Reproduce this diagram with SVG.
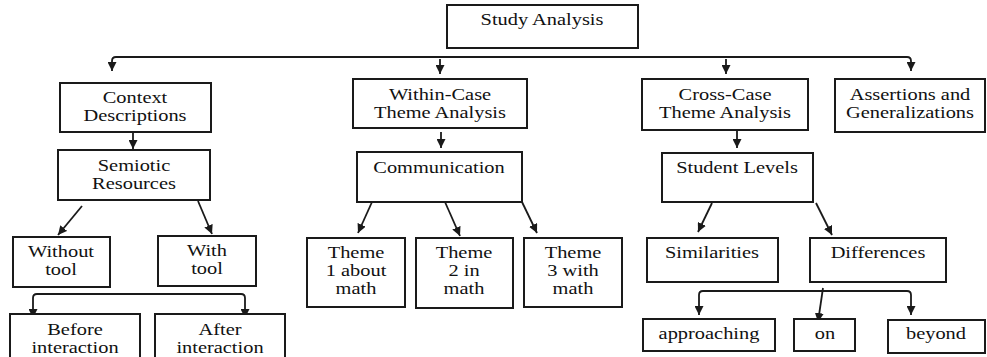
<svg xmlns="http://www.w3.org/2000/svg" width="987" height="357" viewBox="0 0 987 357">
<defs>
<style>
.box{fill:#fff;stroke:#1a1a1a;stroke-width:2}
.t{font-family:'Liberation Serif','Times New Roman','DejaVu Serif',serif;font-size:17px;fill:#111;text-anchor:middle}
.c{fill:none;stroke:#1a1a1a;stroke-width:1.8}
</style>
<marker id="ah" viewBox="0 0 10 10" refX="10" refY="5" markerWidth="9" markerHeight="9" markerUnits="userSpaceOnUse" orient="auto-start-reverse">
<path d="M0,0 L10,5 L0,10 z" fill="#1a1a1a"/>
</marker>
</defs>
<rect width="987" height="357" fill="#fff"/>

<g id="connectors">
<path class="c" d="M112,71 V61 Q112,57 116,57 H907 Q911,57 911,61 V71" marker-start="url(#ah)" marker-end="url(#ah)"/>
<path class="c" d="M440,59 V74" marker-end="url(#ah)"/>
<path class="c" d="M726,59 V74" marker-end="url(#ah)"/>
<path class="c" d="M133,132 V149" marker-end="url(#ah)"/>
<path class="c" d="M441,132 V148" marker-end="url(#ah)"/>
<path class="c" d="M737,130 V148" marker-end="url(#ah)"/>
<path class="c" d="M82,206 L58,235" marker-end="url(#ah)"/>
<path class="c" d="M198,201 L212,234" marker-end="url(#ah)"/>
<path class="c" d="M33,318 V298 Q33,294 37,294 H241 Q245,294 245,298 V318" marker-start="url(#ah)" marker-end="url(#ah)"/>
<path class="c" d="M372,202 L358,233" marker-end="url(#ah)"/>
<path class="c" d="M445,202 L460,236" marker-end="url(#ah)"/>
<path class="c" d="M522,202 L537,233" marker-end="url(#ah)"/>
<path class="c" d="M712,203 L698,232" marker-end="url(#ah)"/>
<path class="c" d="M816,203 L832,235" marker-end="url(#ah)"/>
<path class="c" d="M699,315 V295 Q699,291 703,291 H907 Q911,291 911,295 V315" marker-start="url(#ah)" marker-end="url(#ah)"/>
<path class="c" d="M823,288 L818,322" marker-end="url(#ah)"/>
</g>

<g id="study-analysis">
<rect class="box" x="447" y="5" width="191" height="43"/>
<text class="t" transform="translate(542 25) scale(1.2 1)">Study Analysis</text>
</g>
<g id="context-descriptions">
<rect class="box" x="60" y="83" width="151" height="49"/>
<text class="t" transform="translate(135 103) scale(1.2 1)"><tspan x="0" y="0">Context</tspan><tspan x="0" y="18">Descriptions</tspan></text>
</g>
<g id="semiotic-resources">
<rect class="box" x="58" y="150" width="152" height="50"/>
<text class="t" transform="translate(134 171) scale(1.2 1)"><tspan x="0" y="0">Semiotic</tspan><tspan x="0" y="18">Resources</tspan></text>
</g>
<g id="without-tool">
<rect class="box" x="13" y="237" width="97" height="50"/>
<text class="t" transform="translate(61 257) scale(1.2 1)"><tspan x="0" y="0">Without</tspan><tspan x="0" y="18">tool</tspan></text>
</g>
<g id="with-tool">
<rect class="box" x="158" y="236" width="98" height="50"/>
<text class="t" transform="translate(207 256) scale(1.2 1)"><tspan x="0" y="0">With</tspan><tspan x="0" y="18">tool</tspan></text>
</g>
<g id="before-interaction">
<rect class="box" x="10" y="314" width="130" height="50"/>
<text class="t" transform="translate(75 335) scale(1.2 1)"><tspan x="0" y="0">Before</tspan><tspan x="0" y="18">interaction</tspan></text>
</g>
<g id="after-interaction">
<rect class="box" x="155" y="314" width="130" height="50"/>
<text class="t" transform="translate(220 335) scale(1.2 1)"><tspan x="0" y="0">After</tspan><tspan x="0" y="18">interaction</tspan></text>
</g>
<g id="within-case">
<rect class="box" x="353" y="79" width="174" height="49"/>
<text class="t" transform="translate(440 100) scale(1.2 1)"><tspan x="0" y="0">Within-Case</tspan><tspan x="0" y="18">Theme Analysis</tspan></text>
</g>
<g id="communication">
<rect class="box" x="357" y="152" width="165" height="50"/>
<text class="t" transform="translate(439 173) scale(1.2 1)">Communication</text>
</g>
<g id="theme-1">
<rect class="box" x="307" y="238" width="98" height="69"/>
<text class="t" transform="translate(356 258) scale(1.2 1)"><tspan x="0" y="0">Theme</tspan><tspan x="0" y="18">1 about</tspan><tspan x="0" y="36">math</tspan></text>
</g>
<g id="theme-2">
<rect class="box" x="416" y="238" width="97" height="70"/>
<text class="t" transform="translate(464 258) scale(1.2 1)"><tspan x="0" y="0">Theme</tspan><tspan x="0" y="18">2 in</tspan><tspan x="0" y="36">math</tspan></text>
</g>
<g id="theme-3">
<rect class="box" x="524" y="238" width="98" height="69"/>
<text class="t" transform="translate(573 258) scale(1.2 1)"><tspan x="0" y="0">Theme</tspan><tspan x="0" y="18">3 with</tspan><tspan x="0" y="36">math</tspan></text>
</g>
<g id="cross-case">
<rect class="box" x="642" y="79" width="166" height="51"/>
<text class="t" transform="translate(725 100) scale(1.2 1)"><tspan x="0" y="0">Cross-Case</tspan><tspan x="0" y="18">Theme Analysis</tspan></text>
</g>
<g id="student-levels">
<rect class="box" x="662" y="153" width="151" height="49"/>
<text class="t" transform="translate(737 173) scale(1.2 1)">Student Levels</text>
</g>
<g id="assertions">
<rect class="box" x="835" y="79" width="150" height="53"/>
<text class="t" transform="translate(910 100) scale(1.2 1)"><tspan x="0" y="0">Assertions and</tspan><tspan x="0" y="18">Generalizations</tspan></text>
</g>
<g id="similarities">
<rect class="box" x="647" y="238" width="131" height="44"/>
<text class="t" transform="translate(712 258) scale(1.2 1)">Similarities</text>
</g>
<g id="differences">
<rect class="box" x="810" y="238" width="136" height="44"/>
<text class="t" transform="translate(878 258) scale(1.2 1)">Differences</text>
</g>
<g id="approaching">
<rect class="box" x="643" y="319" width="132" height="32"/>
<text class="t" transform="translate(709 339) scale(1.2 1)">approaching</text>
</g>
<g id="on">
<rect class="box" x="794" y="319" width="61" height="32"/>
<text class="t" transform="translate(825 339) scale(1.2 1)">on</text>
</g>
<g id="beyond">
<rect class="box" x="888" y="320" width="97" height="33"/>
<text class="t" transform="translate(936 339) scale(1.2 1)">beyond</text>
</g>
</svg>
